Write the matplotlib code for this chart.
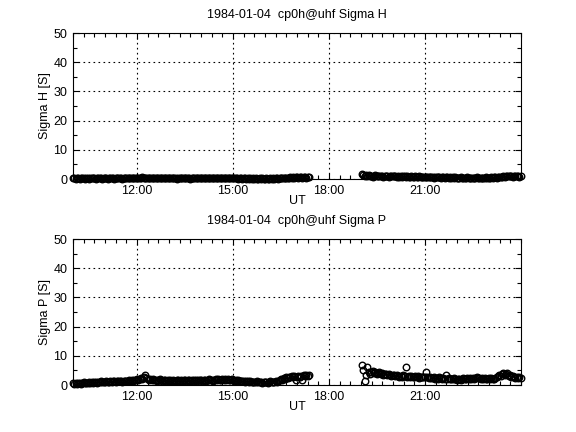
import numpy as np
import matplotlib
matplotlib.use("Agg")
import matplotlib.pyplot as plt
from matplotlib.ticker import MultipleLocator, FuncFormatter

# Sample times in hours UT (2.5-minute samples)
t_left = np.arange(600, 1043, 2.5) / 60.0      # 10:00 .. 17:22.5
t_right = np.arange(1142, 1440, 2.5) / 60.0    # 19:02 .. 23:59.5

sigma_h_left = [
    0.2, 0.4, 0.1, 0.3, 0.2, 0.0, 0.3, 0.2, 0.4, 0.1, 0.2, 0.3, 0.1, 0.2, 0.4, 0.2, 0.3, 0.1, 0.2, 0.3, 0.2, 0.4, 0.1, 0.3,
    0.2, 0.3, 0.1, 0.4, 0.2, 0.3, 0.2, 0.1, 0.3, 0.2, 0.4, 0.2, 0.3, 0.1, 0.2, 0.4, 0.3, 0.2, 0.3, 0.5, 0.2, 0.3, 0.4, 0.3,
    0.4, 0.3, 0.5, 0.4, 0.6, 0.3, 0.5, 0.4, 0.3, 0.5, 0.4, 0.3, 0.4, 0.2, 0.3, 0.4, 0.3, 0.2, 0.4, 0.3, 0.2, 0.3, 0.4, 0.2,
    0.3, 0.2, 0.4, 0.3, 0.2, 0.3, 0.1, 0.3, 0.4, 0.2, 0.3, 0.2, 0.3, 0.4, 0.2, 0.3, 0.1, 0.3, 0.2, 0.4, 0.3, 0.2, 0.3, 0.2,
    0.3, 0.4, 0.2, 0.3, 0.4, 0.3, 0.2, 0.4, 0.3, 0.5, 0.3, 0.4, 0.2, 0.3, 0.4, 0.3, 0.5, 0.3, 0.4, 0.2, 0.3, 0.4, 0.3, 0.4,
    0.3, 0.2, 0.3, 0.2, 0.1, 0.3, 0.2, 0.1, 0.2, 0.3, 0.1, 0.2, 0.1, 0.2, 0.0, 0.2, 0.1, 0.2, 0.1, 0.0, 0.2, 0.1, 0.2, 0.1,
    0.1, 0.2, 0.0, 0.1, 0.2, 0.1, 0.2, 0.1, 0.3, 0.2, 0.1, 0.2, 0.3, 0.2, 0.4, 0.3, 0.5, 0.4, 0.5, 0.6, 0.5, 0.6, 0.5, 0.7,
    0.6, 0.5, 0.7, 0.6, 0.5, 0.7, 0.6, 0.5, 0.6, 0.7,
]
sigma_h_right = [
    1.8, 1.4, 1.1, 1.3, 0.9, 1.2, 1.0, 1.1, 0.8, 1.0, 1.2, 0.9, 1.0, 1.1, 0.9, 1.0, 0.8, 1.1, 0.9, 1.0, 0.8, 0.9, 1.0, 0.9,
    0.9, 1.0, 0.8, 0.9, 0.7, 1.0, 0.8, 0.9, 1.1, 0.8, 0.9, 0.7, 0.8, 0.9, 0.7, 0.8, 1.0, 0.8, 0.7, 0.9, 0.8, 0.7, 0.8, 0.7,
    0.8, 0.6, 0.7, 0.8, 0.6, 0.7, 0.5, 0.7, 0.6, 0.8, 0.6, 0.5, 0.7, 0.6, 0.5, 0.6, 0.7, 0.5, 0.6, 0.4, 0.6, 0.5, 0.6, 0.5,
    0.5, 0.4, 0.6, 0.5, 0.3, 0.5, 0.4, 0.6, 0.5, 0.4, 0.5, 0.3, 0.5, 0.4, 0.6, 0.4, 0.5, 0.3, 0.5, 0.4, 0.5, 0.6, 0.4, 0.5,
    0.5, 0.6, 0.4, 0.6, 0.7, 0.5, 0.7, 0.6, 0.8, 0.7, 0.9, 0.8, 1.0, 0.9, 1.1, 0.9, 1.0, 0.8, 1.0, 1.1, 0.9, 1.0, 0.8, 0.9,
]
sigma_p_left = [
    0.6, 0.4, 0.7, 0.5, 0.8, 0.6, 0.5, 0.7, 0.9, 0.6, 0.8, 0.7, 0.9, 0.8, 1.0, 0.7, 0.9, 1.1, 0.8, 1.0, 0.9, 1.2, 1.0, 1.1,
    1.0, 1.2, 0.9, 1.1, 1.3, 1.0, 1.2, 1.4, 1.1, 1.3, 1.2, 1.5, 1.3, 1.1, 1.4, 1.2, 1.5, 1.3, 1.6, 1.4, 1.7, 1.5, 1.8, 1.6,
    1.9, 1.7, 2.1, 2.4, 2.0, 2.6, 3.3, 2.3, 2.0, 1.8, 2.1, 1.7, 1.9, 1.6, 1.8, 1.5, 1.7, 1.9, 1.6, 1.4, 1.6, 1.8, 1.5, 1.7,
    1.5, 1.6, 1.4, 1.7, 1.5, 1.3, 1.6, 1.8, 1.5, 1.7, 1.4, 1.6, 1.8, 1.5, 1.7, 1.6, 1.4, 1.7, 1.5, 1.8, 1.6, 1.5, 1.7, 1.6,
    1.7, 1.5, 1.8, 1.6, 1.4, 1.7, 1.9, 1.6, 1.8, 1.5, 1.7, 2.0, 1.7, 1.9, 1.6, 1.8, 2.0, 1.7, 1.9, 1.6, 2.1, 1.8, 1.6, 1.9,
    1.7, 1.5, 1.8, 1.4, 1.6, 1.3, 1.5, 1.2, 1.4, 1.1, 1.3, 1.2, 1.0, 1.2, 1.1, 0.9, 1.1, 1.0, 1.2, 0.9, 1.1, 1.0, 0.8, 1.0,
    0.9, 1.1, 0.8, 1.0, 1.2, 0.9, 1.1, 1.0, 1.3, 1.1, 1.4, 1.7, 2.0, 1.8, 2.4, 2.2, 2.7, 2.5, 2.9, 2.6, 3.0, 2.8, 3.1, 1.6,
    2.9, 3.2, 2.7, 3.1, 1.8, 3.3, 3.0, 3.4, 3.2, 3.5,
]
sigma_p_right = [
    6.8, 5.2, 1.4, 3.5, 6.0, 4.6, 3.9, 4.3, 4.8, 4.0, 4.4, 3.8, 4.1, 4.3, 3.7, 4.0, 3.5, 3.9, 3.6, 3.3, 3.7, 3.4, 3.2, 3.5,
    3.3, 3.0, 3.4, 3.1, 2.8, 3.2, 2.9, 3.3, 3.0, 6.1, 2.7, 3.1, 2.8, 3.0, 2.6, 2.9, 3.2, 2.7, 3.0, 2.5, 2.8, 2.6, 2.9, 2.7,
    4.5, 2.6, 2.4, 2.8, 2.3, 2.5, 2.7, 2.2, 2.4, 2.1, 2.6, 2.3, 2.0, 2.4, 2.2, 3.5, 2.1, 2.3, 1.9, 2.2, 2.0, 2.4, 2.1, 1.8,
    2.0, 2.2, 1.8, 2.1, 2.3, 1.9, 2.2, 2.4, 2.0, 2.3, 2.1, 2.5, 2.2, 2.4, 2.6, 2.3, 2.5, 2.2, 2.4, 2.1, 2.3, 2.0, 2.2, 2.4,
    2.1, 2.3, 2.0, 2.2, 2.5, 2.8, 3.1, 3.4, 3.0, 3.6, 4.1, 3.3, 3.7, 4.0, 3.2, 3.5, 2.9, 3.1, 2.7, 2.5, 2.8, 2.3, 2.6, 2.4,
]

titles = ["1984-01-04  cp0h@uhf Sigma H", "1984-01-04  cp0h@uhf Sigma P"]
ylabels = ["Sigma H [S]", "Sigma P [S]"]
xticks = [12, 15, 18, 21]

plt.rcParams['font.family'] = ['Liberation Sans', 'DejaVu Sans']
fig = plt.figure(figsize=(5.76, 4.32), dpi=100)
fig.patch.set_facecolor('white')

W, H = 576.0, 432.0
boxes = [(73, 33, 521, 179), (73, 239, 521, 385)]
series = [(sigma_h_left, sigma_h_right), (sigma_p_left, sigma_p_right)]

def fmt(x, pos):
    mins = int(round(x * 60))
    return "%02d:%02d" % (mins // 60, mins % 60)

for i, (x0, y0, x1, y1) in enumerate(boxes):
    ax = fig.add_axes([x0 / W, 1 - y1 / H, (x1 - x0) / W, (y1 - y0) / H])
    left, right = series[i]
    for t, v in ((t_left, left), (t_right, right)):
        ax.plot(t, v, linestyle='none', marker='o', markersize=4.7,
                markerfacecolor='none', markeredgecolor='black',
                markeredgewidth=1.0, clip_on=False, zorder=3)
    ax.set_xlim(10, 24)
    ax.set_ylim(0, 50)
    ax.set_xticks(xticks)
    ax.xaxis.set_major_formatter(FuncFormatter(fmt))
    ax.xaxis.set_minor_locator(MultipleLocator(1 / 3))
    ax.yaxis.set_major_locator(MultipleLocator(10))
    ax.yaxis.set_minor_locator(MultipleLocator(5))
    ax.tick_params(which='both', direction='in', top=True, right=True,
                   width=0.8, labelsize=9, pad=4)
    ax.tick_params(which='major', length=4)
    ax.tick_params(which='minor', length=3)
    ax.grid(True, which='major', color='black', linestyle=(0, (1.5, 3)),
            linewidth=0.8)
    for s in ax.spines.values():
        s.set_linewidth(0.8)
    ax.set_title(titles[i], fontsize=9, pad=11)
    ax.set_ylabel(ylabels[i], fontsize=9, labelpad=2)
    ax.set_xlabel("UT", fontsize=9, labelpad=-1)

fig.savefig("out.png", dpi=100, facecolor='white')
